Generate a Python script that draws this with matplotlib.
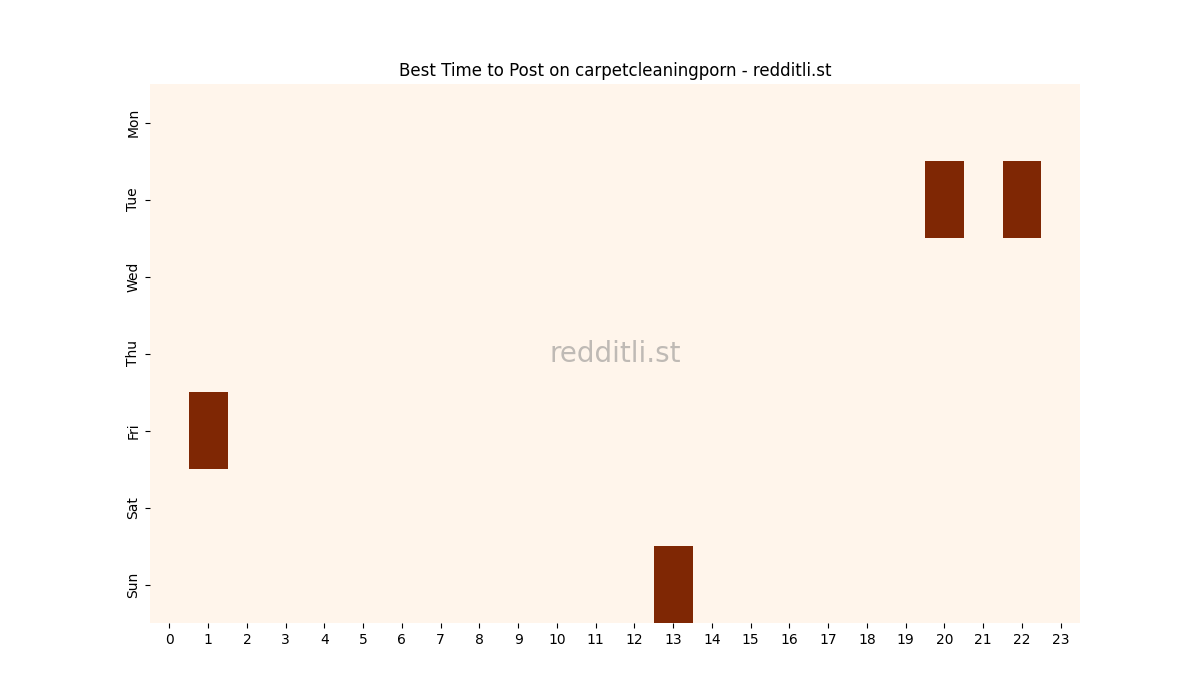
import matplotlib
matplotlib.use("Agg")
import matplotlib.pyplot as plt
import seaborn as sns
import numpy as np
import pandas as pd

days = ["Mon", "Tue", "Wed", "Thu", "Fri", "Sat", "Sun"]
hours = list(range(24))

# (day, hour) cells that had posts
tue_hours = [20, 22]
fri_hours = [1]
sun_hours = [13]

counts = np.zeros((len(days), len(hours)))
for h in tue_hours:
    counts[days.index("Tue"), h] = 1
for h in fri_hours:
    counts[days.index("Fri"), h] = 1
for h in sun_hours:
    counts[days.index("Sun"), h] = 1

df = pd.DataFrame(counts, index=days, columns=hours)

fig = plt.figure(figsize=(12, 7), dpi=100)
ax = sns.heatmap(df, cmap="Oranges", cbar=False)
ax.set_title("Best Time to Post on carpetcleaningporn - redditli.st")
ax.set_xlabel("")
ax.set_ylabel("")
plt.setp(ax.get_yticklabels(), rotation=90, va="center")
plt.setp(ax.get_xticklabels(), rotation=0)

ax.text(0.5, 0.5, "redditli.st", transform=ax.transAxes, fontsize=20,
        color="grey", alpha=0.5, ha="center", va="center")

plt.savefig("out.png")
